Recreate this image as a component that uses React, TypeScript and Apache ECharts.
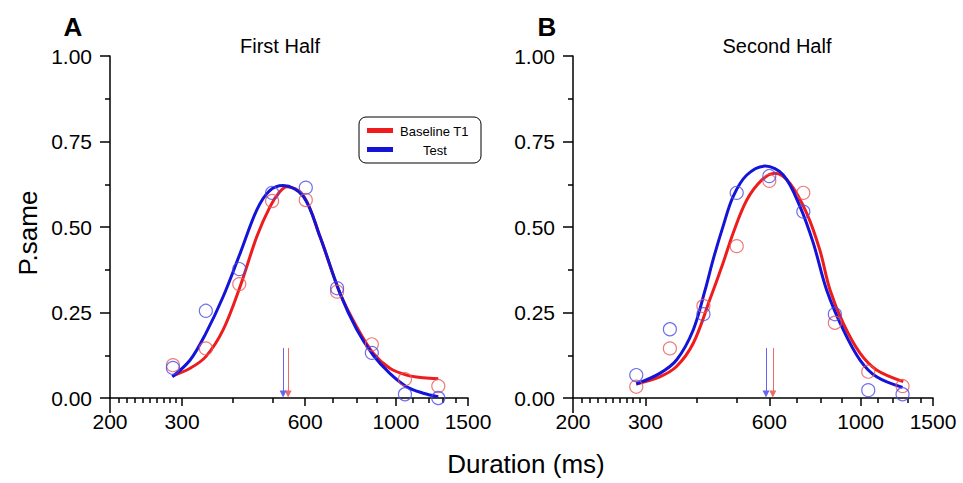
import React, { useEffect, useRef } from "react";
import * as echarts from "echarts";

// ---------- data ----------
const xLabelValues = [200, 300, 600, 1000, 1500];
const xMajorTicks = [300, 600, 1000, 1500];
const xMinorTicks = [210, 220, 230, 240, 250, 260, 270, 280, 290, 400, 500, 700, 800, 900, 1100, 1200, 1300, 1400];
const xStartTick = [200];

// Panel A (First Half) observed points
const aDurations = [285, 343, 414, 498, 602, 718, 873, 1052, 1269];
const aBaseline = [0.096, 0.145, 0.333, 0.576, 0.579, 0.311, 0.157, 0.055, 0.035];
const aTest = [0.088, 0.255, 0.377, 0.6, 0.615, 0.321, 0.132, 0.011, 0.0];

// Panel B (Second Half) observed points
const bDurations = [285, 344, 415, 500, 600, 726, 866, 1044, 1265];
const bBaseline = [0.033, 0.145, 0.269, 0.444, 0.635, 0.6, 0.22, 0.077, 0.035];
const bTest = [0.067, 0.201, 0.245, 0.6, 0.649, 0.545, 0.245, 0.023, 0.011];

// Fitted curves
const aBaselineCurve: [number, number][] = [
  [285, 0.065], [314, 0.087], [343, 0.121], [378, 0.199], [416, 0.326], [457, 0.472],
  [492, 0.559], [520, 0.603], [541, 0.618], [594, 0.592], [652, 0.472], [730, 0.306],
  [802, 0.208], [880, 0.131], [966, 0.087], [1062, 0.067], [1167, 0.059], [1269, 0.056],
];
const aTestCurve: [number, number][] = [
  [284, 0.062], [314, 0.111], [343, 0.189], [378, 0.296], [416, 0.423],
  [457, 0.55], [490, 0.605], [530, 0.621], [594, 0.589], [652, 0.472], [730, 0.306],
  [802, 0.2], [880, 0.125], [966, 0.072], [1062, 0.033], [1167, 0.014], [1269, 0.004],
];
const bBaselineCurve: [number, number][] = [
  [285, 0.041], [325, 0.062], [357, 0.092], [392, 0.16], [430, 0.287], [463, 0.394],
  [490, 0.482], [529, 0.579], [575, 0.637], [619, 0.657], [673, 0.628], [740, 0.54],
  [796, 0.433], [843, 0.316], [908, 0.218], [997, 0.131], [1094, 0.082], [1270, 0.048],
];
const bTestCurve: [number, number][] = [
  [285, 0.041], [325, 0.072], [357, 0.111], [392, 0.199], [419, 0.316], [438, 0.404],
  [463, 0.501], [490, 0.589], [529, 0.652], [586, 0.678], [649, 0.652], [713, 0.559],
  [768, 0.452], [827, 0.316], [908, 0.199], [997, 0.111], [1094, 0.062], [1265, 0.031],
];

// PSE arrows
const aPSE = { baseline: 545, test: 530 };
const bPSE = { baseline: 612, test: 589 };
const arrowTop = 0.146;
const arrowBottom = 0.012;

const panelTitles = ["First Half", "Second Half"];
const panelLetters = ["A", "B"];
const seriesNames = ["Baseline T1", "Test"];

// ---------- style ----------
const RED = "#ee1c1c";
const BLUE = "#1414d8";
const RED_PT = "#e85a58";
const BLUE_PT = "#4b4be8";
const RED_ARROW = "#ec6a6a";
const BLUE_ARROW = "#6666ec";
const FONT = "'Liberation Sans', Arial, Helvetica, sans-serif";
const LOG = (v: number) => Math.log10(v);

export default function App() {
  const ref = useRef<HTMLDivElement>(null);

  useEffect(() => {
    if (!ref.current) return;
    const chart = echarts.init(ref.current, undefined, { renderer: "svg" });

    const grids = [
      { left: 110, top: 56, width: 358, height: 342 },
      { left: 573, top: 56, width: 360, height: 342 },
    ];

    const xAxes: any[] = [];
    const yAxes: any[] = [];
    grids.forEach((_, gi) => {
      xAxes.push({
        gridIndex: gi,
        type: "log",
        logBase: 10,
        min: 200,
        max: 1500,
        axisLine: { show: true, onZero: false, lineStyle: { color: "#000", width: 1.5 } },
        axisTick: { show: false },
        axisLabel: { show: false },
        splitLine: { show: false },
      });
      xAxes.push({
        gridIndex: gi,
        type: "value",
        position: "bottom",
        min: LOG(200),
        max: LOG(1500),
        axisLine: { show: false, onZero: false },
        axisTick: {
          show: true,
          customValues: xMajorTicks.map(LOG),
          length: 8,
          lineStyle: { color: "#000", width: 1.5 },
        },
        axisLabel: {
          show: true,
          customValues: xLabelValues.map(LOG),
          formatter: (v: number) => String(Math.round(Math.pow(10, v))),
          fontSize: 21,
          color: "#000",
          fontFamily: FONT,
          margin: 13,
        },
        splitLine: { show: false },
      });
      xAxes.push({
        gridIndex: gi,
        type: "value",
        position: "bottom",
        min: LOG(200),
        max: LOG(1500),
        axisLine: { show: false, onZero: false },
        axisTick: {
          show: true,
          customValues: xMinorTicks.map(LOG),
          length: 5,
          lineStyle: { color: "#000", width: 1.5 },
        },
        axisLabel: { show: false },
        splitLine: { show: false },
      });
      xAxes.push({
        gridIndex: gi,
        type: "value",
        position: "bottom",
        min: LOG(200),
        max: LOG(1500),
        axisLine: { show: false, onZero: false },
        axisTick: {
          show: true,
          customValues: xStartTick.map(LOG),
          length: 15,
          lineStyle: { color: "#000", width: 1.5 },
        },
        axisLabel: { show: false },
        splitLine: { show: false },
      });
      yAxes.push({
        gridIndex: gi,
        type: "value",
        min: 0,
        max: 1,
        interval: 0.25,
        axisLine: { show: true, onZero: false, lineStyle: { color: "#000", width: 1.5 } },
        axisTick: { show: true, length: 10, lineStyle: { color: "#000", width: 1.5 } },
        minorTick: { show: true, splitNumber: 2, length: 5, lineStyle: { color: "#000", width: 1.5 } },
        axisLabel: {
          formatter: (v: number) => v.toFixed(2),
          fontSize: 21,
          color: "#000",
          fontFamily: FONT,
          margin: 18,
        },
        splitLine: { show: false },
        minorSplitLine: { show: false },
      });
    });

    const panels = [
      { dur: aDurations, base: aBaseline, test: aTest, baseCurve: aBaselineCurve, testCurve: aTestCurve, pse: aPSE },
      { dur: bDurations, base: bBaseline, test: bTest, baseCurve: bBaselineCurve, testCurve: bTestCurve, pse: bPSE },
    ];

    const series: any[] = [];
    panels.forEach((p, gi) => {
      const xi = gi * 4;
      const arrow = (x: number, color: string) => ({
        silent: true,
        animation: false,
        symbol: ["none", "triangle"],
        symbolSize: 7,
        label: { show: false },
        lineStyle: { color, width: 1, type: "solid" },
        emphasis: { disabled: true },
        data: [[{ coord: [x, arrowTop] }, { coord: [x, arrowBottom] }]],
      });
      series.push({
        name: seriesNames[0],
        type: "line",
        xAxisIndex: xi,
        yAxisIndex: gi,
        data: p.baseCurve,
        smooth: 0.35,
        showSymbol: false,
        symbol: "none",
        lineStyle: { color: RED, width: 3 },
        itemStyle: { color: RED },
        z: 3,
        markLine: arrow(p.pse.baseline, RED_ARROW),
      });
      series.push({
        name: seriesNames[1],
        type: "line",
        xAxisIndex: xi,
        yAxisIndex: gi,
        data: p.testCurve,
        smooth: 0.35,
        showSymbol: false,
        symbol: "none",
        lineStyle: { color: BLUE, width: 3 },
        itemStyle: { color: BLUE },
        z: 4,
        markLine: arrow(p.pse.test, BLUE_ARROW),
      });
      series.push({
        name: seriesNames[0] + " data",
        type: "scatter",
        xAxisIndex: xi,
        yAxisIndex: gi,
        data: p.dur.map((d, i) => [d, p.base[i]]),
        symbol: "circle",
        symbolSize: 13,
        itemStyle: { color: "rgba(255,255,255,0)", borderColor: RED_PT, borderWidth: 1.2 },
        z: 5,
      });
      series.push({
        name: seriesNames[1] + " data",
        type: "scatter",
        xAxisIndex: xi,
        yAxisIndex: gi,
        data: p.dur.map((d, i) => [d, p.test[i]]),
        symbol: "circle",
        symbolSize: 13,
        itemStyle: { color: "rgba(255,255,255,0)", borderColor: BLUE_PT, borderWidth: 1.2 },
        z: 6,
      });
    });

    const txt = (text: string, x: number, y: number, size: number, extra: any = {}) => ({
      type: "text",
      x,
      y,
      z: 100,
      style: {
        text,
        fontSize: size,
        fontFamily: FONT,
        fill: "#000",
        align: "center",
        verticalAlign: "middle",
        ...extra,
      },
    });

    const graphic: any[] = [
      txt(panelLetters[0], 73, 27, 26, { fontWeight: "bold" }),
      txt(panelLetters[1], 547, 27, 26, { fontWeight: "bold" }),
      txt(panelTitles[0], 280, 46, 20),
      txt(panelTitles[1], 777, 46, 20),
      {
        ...txt("P.same", 0, 0, 26),
        x: 28,
        y: 233,
        rotation: Math.PI / 2,
      },
      txt("Duration (ms)", 526, 464, 26),
      {
        type: "rect",
        z: 99,
        shape: { x: 359, y: 117, width: 122, height: 46, r: 7 },
        style: { fill: "#fff", stroke: "#000", lineWidth: 1 },
      },
      {
        type: "rect",
        z: 100,
        shape: { x: 367, y: 128, width: 26, height: 5 },
        style: { fill: RED },
      },
      {
        type: "rect",
        z: 100,
        shape: { x: 367, y: 147, width: 26, height: 5 },
        style: { fill: BLUE },
      },
      txt(seriesNames[0], 400, 131, 13, { align: "left" }),
      txt(seriesNames[1], 435, 150, 13),
    ];

    chart.setOption({
      animation: false,
      backgroundColor: "#fff",
      textStyle: { fontFamily: FONT },
      grid: grids.map((g) => ({ ...g, containLabel: false })),
      xAxis: xAxes,
      yAxis: yAxes,
      series,
      graphic,
    });

    return () => chart.dispose();
  }, []);

  return (
    <div
      ref={ref}
      style={{ position: "fixed", left: 0, top: 0, width: 963, height: 483, background: "#fff" }}
    />
  );
}
